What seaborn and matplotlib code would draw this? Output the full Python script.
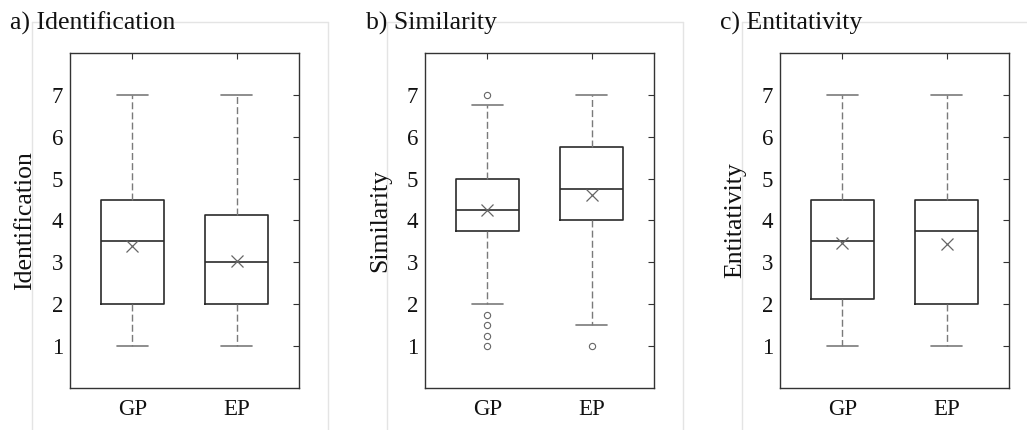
import matplotlib
matplotlib.use("Agg")
import matplotlib.pyplot as plt
import seaborn as sns
from matplotlib.lines import Line2D

sns.set_theme(style="white")
plt.rcParams['font.family'] = ['Liberation Serif', 'DejaVu Serif']

# box statistics (GP, EP)
groups = ["GP", "EP"]
panels = ["a) Identification", "b) Similarity", "c) Entitativity"]
ylabels = ["Identification", "Similarity", "Entitativity"]

q1 = [[2.0, 2.0], [3.75, 4.0], [2.13, 2.0]]
median = [[3.5, 3.0], [4.25, 4.75], [3.5, 3.75]]
q3 = [[4.5, 4.13], [5.0, 5.75], [4.5, 4.5]]
whisk_lo = [[1.0, 1.0], [2.0, 1.5], [1.0, 1.0]]
whisk_hi = [[7.0, 7.0], [6.75, 7.0], [7.0, 7.0]]
means = [[3.39, 3.03], [4.25, 4.62], [3.46, 3.44]]
fliers = [[[], []], [[7.0, 1.75, 1.5, 1.25, 1.0], [1.0]], [[], []]]

# layout in pixels (figure is 1027 x 430)
W, H = 1027, 430
ax_left = [70, 425, 780]
ax_w, ax_top, ax_bot = 229, 53, 388
frames = [(32, 328), (387, 683), (742, 1030)]
title_x = [10, 366, 720]

box_col = "#2b2b2b"
whisk_col = "#7a7a7a"

fig = plt.figure(figsize=(W / 100, H / 100), dpi=100)
fig.patch.set_facecolor("white")

# faint panel frames
for x0, x1 in frames:
    fy = 1 - 22 / H
    for xs, ys in [([x0 / W, x0 / W], [0, fy]), ([x0 / W, x1 / W], [fy, fy]), ([x1 / W, x1 / W], [0, fy])]:
        fig.add_artist(Line2D(xs, ys, transform=fig.transFigure, color="#e4e4e4", lw=1.0, zorder=0))

for i in range(3):
    ax = fig.add_axes([ax_left[i] / W, 1 - ax_bot / H, ax_w / W, (ax_bot - ax_top) / H])
    stats = []
    for j, g in enumerate(groups):
        stats.append(dict(label=g, q1=q1[i][j], med=median[i][j], q3=q3[i][j],
                          whislo=whisk_lo[i][j], whishi=whisk_hi[i][j],
                          mean=means[i][j], fliers=fliers[i][j]))
    ax.bxp(stats, positions=[1, 2], widths=0.6, showmeans=True,
           boxprops=dict(color=box_col, lw=1.2),
           medianprops=dict(color=box_col, lw=1.2),
           whiskerprops=dict(color=whisk_col, lw=1.0, linestyle=(0, (5, 2.3))),
           capprops=dict(color=whisk_col, lw=1.2),
           capwidths=0.3,
           meanprops=dict(marker="x", markersize=8, markeredgecolor="#666666",
                          markeredgewidth=0.9, linestyle="none"),
           flierprops=dict(marker="o", markersize=4.5, markerfacecolor="none",
                           markeredgecolor="#666666", markeredgewidth=0.8))
    ax.set_xlim(0.4, 2.6)
    ax.set_ylim(0, 8)
    ax.set_yticks([1, 2, 3, 4, 5, 6, 7])
    ax.set_xticks([1, 2])
    ax.set_xticklabels(groups)
    ax.tick_params(axis="both", direction="in", length=4, width=0.8, color="#333333",
                   labelsize=16.5, labelcolor="#111111", top=True, right=True)
    ax.tick_params(axis="y", pad=5)
    ax.tick_params(axis="x", pad=8)
    for s in ax.spines.values():
        s.set_color("#333333")
        s.set_linewidth(1.0)
    ax.set_ylabel(ylabels[i], fontsize=18.5, color="#111111", labelpad=11)
    ax.set_xlabel("")
    fig.text(title_x[i] / W, 1 - 30 / H, panels[i], fontsize=18.5, color="#111111",
             ha="left", va="baseline")

fig.savefig("out.png", dpi=100, facecolor="white")
